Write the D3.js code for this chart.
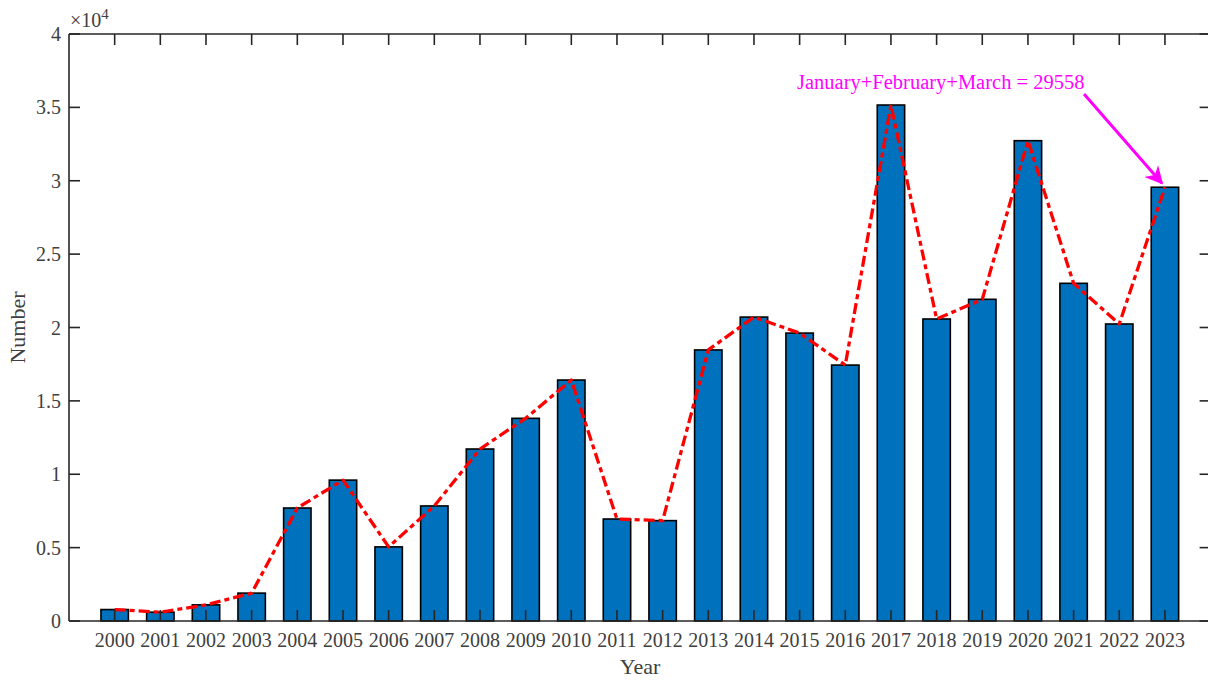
<!DOCTYPE html>
<html>
<head>
<meta charset="utf-8">
<script src="https://cdn.jsdelivr.net/npm/d3@7"></script>
<style>
  html, body { margin: 0; padding: 0; background: #fff; }
  svg { display: block; font-family: "Liberation Serif", "Times New Roman", serif; }
</style>
</head>
<body>
<svg id="chart" width="1208" height="680"></svg>
<script>
// Yearly counts (2023 covers January–March only)
const years = [2000, 2001, 2002, 2003, 2004, 2005, 2006, 2007, 2008, 2009, 2010, 2011,
               2012, 2013, 2014, 2015, 2016, 2017, 2018, 2019, 2020, 2021, 2022, 2023];
const counts = [780, 600, 1100, 1900, 7700, 9600, 5050, 7840, 11720, 13810, 16420, 6950,
                6840, 18470, 20710, 19620, 17440, 35160, 20580, 21920, 32730, 23010, 20240, 29558];
const yTicks = [0, 5000, 10000, 15000, 20000, 25000, 30000, 35000, 40000];
const yTickLabels = ["0", "0.5", "1", "1.5", "2", "2.5", "3", "3.5", "4"];
const noteText = "January+February+March = 29558";
const noteYear = 2023;
const noteValue = 29558;

(function draw() {
  const svg = d3.select("#chart");
  const plotL = 69, plotR = 1210.6, plotT = 34, plotB = 621;
  const axisColor = "#262626";
  const textColor = "#404040";

  const x = d3.scaleLinear().domain([1999, 2024]).range([plotL, plotR]);
  const y = d3.scaleLinear().domain([0, 40000]).range([plotB, plotT]);
  const step = x(1) - x(0);
  const barW = step * 0.6;

  // bars
  svg.append("g").selectAll("rect")
    .data(years.map((yr, i) => ({ yr, v: counts[i] })))
    .join("rect")
    .attr("x", d => x(d.yr) - barW / 2)
    .attr("y", d => y(d.v))
    .attr("width", barW)
    .attr("height", d => y(0) - y(d.v))
    .attr("fill", "#0072BD")
    .attr("stroke", "#000")
    .attr("stroke-width", 1.6);

  // dash-dot trend line through the bar tops
  const line = d3.line().x((d, i) => x(years[i])).y(d => y(d));
  svg.append("path")
    .datum(counts)
    .attr("d", line)
    .attr("fill", "none")
    .attr("stroke", "#ff0000")
    .attr("stroke-width", 3.3)
    .attr("stroke-dasharray", "11,4,5,4")
    .attr("stroke-linejoin", "round");

  // axes box with inward ticks on all four sides
  const tickLen = 11;
  const axes = svg.append("g").attr("stroke", axisColor).attr("stroke-width", 1.6).attr("fill", "none");
  axes.append("line").attr("x1", plotL).attr("x2", plotR).attr("y1", plotB).attr("y2", plotB);
  axes.append("line").attr("x1", plotL).attr("x2", plotR).attr("y1", plotT).attr("y2", plotT);
  axes.append("line").attr("x1", plotL).attr("x2", plotL).attr("y1", plotT).attr("y2", plotB);
  axes.append("line").attr("x1", plotR).attr("x2", plotR).attr("y1", plotT).attr("y2", plotB);

  years.forEach(yr => {
    axes.append("line").attr("x1", x(yr)).attr("x2", x(yr)).attr("y1", plotB).attr("y2", plotB - tickLen);
    axes.append("line").attr("x1", x(yr)).attr("x2", x(yr)).attr("y1", plotT).attr("y2", plotT + tickLen);
  });
  yTicks.forEach(t => {
    axes.append("line").attr("x1", plotL).attr("x2", plotL + tickLen).attr("y1", y(t)).attr("y2", y(t));
    axes.append("line").attr("x1", plotR).attr("x2", plotR - tickLen).attr("y1", y(t)).attr("y2", y(t));
  });

  // tick labels
  svg.append("g").selectAll("text")
    .data(years)
    .join("text")
    .attr("x", d => x(d))
    .attr("y", plotB + 26)
    .attr("text-anchor", "middle")
    .attr("font-size", 20)
    .attr("fill", textColor)
    .text(d => d);

  svg.append("g").selectAll("text")
    .data(yTicks)
    .join("text")
    .attr("x", plotL - 8)
    .attr("y", d => y(d) + 7)
    .attr("text-anchor", "end")
    .attr("font-size", 20)
    .attr("fill", textColor)
    .text((d, i) => yTickLabels[i]);

  // exponent marker
  const expo = svg.append("text")
    .attr("x", plotL + 1)
    .attr("y", plotT - 7)
    .attr("font-size", 20)
    .attr("fill", textColor);
  expo.append("tspan").text("\u00d710");
  expo.append("tspan").attr("dy", -8).attr("font-size", 15).text("4");

  // axis titles
  svg.append("text")
    .attr("x", 640)
    .attr("y", 674)
    .attr("text-anchor", "middle")
    .attr("font-size", 22)
    .attr("fill", textColor)
    .text("Year");

  svg.append("text")
    .attr("transform", `translate(25, ${(plotT + plotB) / 2}) rotate(-90)`)
    .attr("text-anchor", "middle")
    .attr("font-size", 22)
    .attr("fill", textColor)
    .text("Number");

  // annotation for the partial year
  svg.append("defs").append("marker")
    .attr("id", "arrowHead")
    .attr("viewBox", "0 0 10 10")
    .attr("refX", 9).attr("refY", 5)
    .attr("markerWidth", 6).attr("markerHeight", 6)
    .attr("markerUnits", "strokeWidth")
    .attr("orient", "auto")
    .append("path")
    .attr("d", "M0,0 L10,5 L0,10 L3,5 Z")
    .attr("fill", "#ff00ff");

  svg.append("line")
    .attr("x1", 1084).attr("y1", 94)
    .attr("x2", x(noteYear) - 3).attr("y2", y(noteValue) - 4)
    .attr("stroke", "#ff00ff")
    .attr("stroke-width", 3)
    .attr("marker-end", "url(#arrowHead)");

  svg.append("text")
    .attr("x", 797)
    .attr("y", 89)
    .attr("font-size", 20.5)
    .attr("fill", "#ff00ff")
    .text(noteText);
})();
</script>
</body>
</html>
